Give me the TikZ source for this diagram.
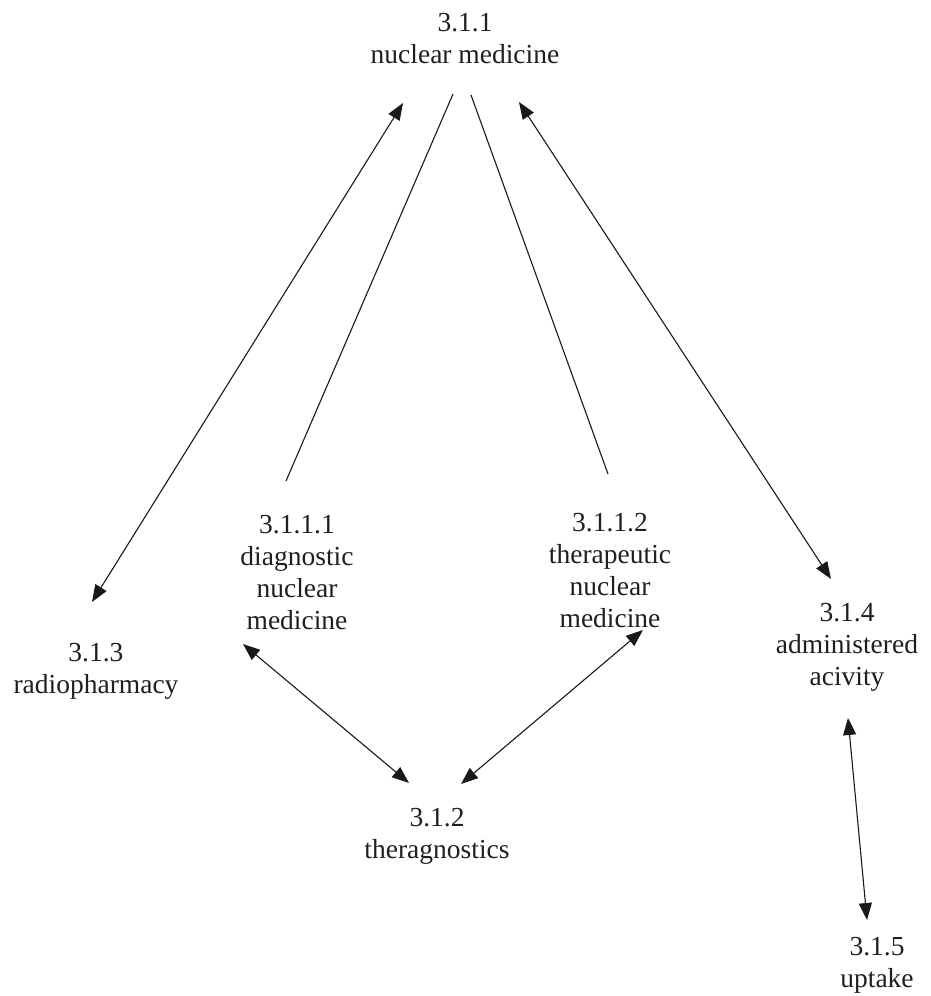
\documentclass[tikz,border=0pt]{standalone}
\usepackage{fontspec}
\setmainfont{Liberation Serif}
\usetikzlibrary{arrows.meta}
\tikzset{
	term/.style={align=center, anchor=north, inner sep=0pt, text=black!88, font=\fontsize{27.5}{32}\selectfont},
	link/.style={line width=1.1pt, color=black!90},
	dbl/.style={link, {Triangle[length=17pt,width=13pt]}-{Triangle[length=17pt,width=13pt]}}
}

\begin{document}
\begin{tikzpicture}[x=1pt, y=1pt]
		%%%%% START %%%%%
		
		\useasboundingbox (0, 0) rectangle (930, -996);
		
		\node[term] (nm) at (465, -13) {3.1.1\\nuclear medicine};
		\node[term] (diag) at (297, -515) {3.1.1.1\\diagnostic\\nuclear\\medicine};
		\node[term] (ther) at (610, -513) {3.1.1.2\\therapeutic\\nuclear\\medicine};
		\node[term] (rad) at (96, -643) {3.1.3\\radiopharmacy};
		\node[term] (adm) at (847, -603) {3.1.4\\administered\\acivity};
		\node[term] (thg) at (437, -808) {3.1.2\\theragnostics};
		\node[term] (upt) at (877, -937) {3.1.5\\uptake};
		
		\draw[dbl] ([shift={(-62, -90)}]nm.north) -- ([shift={(-4, 41)}]rad.north);
		\draw[link] ([shift={(-12, -81)}]nm.north) -- ([shift={(-11, 34)}]diag.north);
		\draw[link] ([shift={(6, -82)}]nm.north) -- ([shift={(-2, 39)}]ther.north);
		\draw[dbl] ([shift={(54, -89)}]nm.north) -- ([shift={(-16, 24)}]adm.north);
		
		\draw[dbl] ([shift={(-54, -129)}]diag.north) -- ([shift={(-28, 25)}]thg.north);
		\draw[dbl] ([shift={(33, -117)}]ther.north) -- ([shift={(24, 24)}]thg.north);
		\draw[dbl] ([shift={(1, -115)}]adm.north) -- ([shift={(-10, 17)}]upt.north);
		
		%%%%% END %%%%%
	\end{tikzpicture}
\end{document}
